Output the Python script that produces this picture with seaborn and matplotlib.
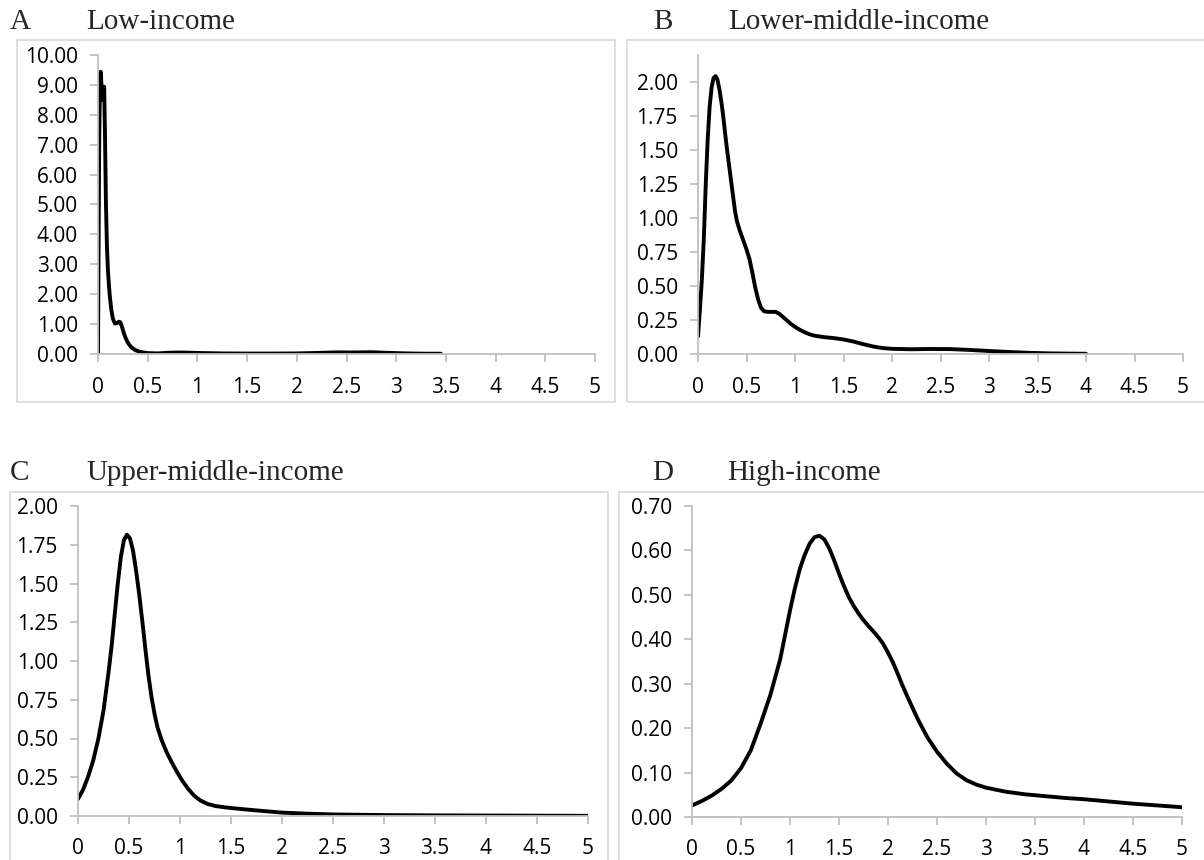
import matplotlib
matplotlib.use('Agg')
import matplotlib.pyplot as plt
from matplotlib.patches import Rectangle
import seaborn as sns

sns.set_style('white')
plt.rcParams['font.family'] = ['Open Sans', 'DejaVu Sans']

# Panel data
panel_letters = ['A', 'B', 'C', 'D']
panel_titles = ['Low-income', 'Lower-middle-income', 'Upper-middle-income', 'High-income']

x_low = [0.0, 0.005, 0.012, 0.02, 0.027, 0.035, 0.045, 0.055, 0.062, 0.07, 0.08, 0.09,
         0.1, 0.11, 0.12, 0.135, 0.15, 0.17, 0.19, 0.21, 0.225, 0.24, 0.26, 0.28, 0.3,
         0.33, 0.37, 0.42, 0.5, 0.6, 0.7, 0.8, 0.9, 1.0, 1.25, 1.5, 1.75, 2.0, 2.2, 2.4,
         2.55, 2.75, 2.9, 3.1, 3.3, 3.45]
y_low = [0.0, 3.0, 7.0, 9.1, 9.44, 9.0, 8.5, 8.8, 8.94, 7.4, 5.0, 3.6,
         2.8, 2.3, 1.9, 1.45, 1.18, 1.02, 1.03, 1.08, 1.06, 0.92, 0.7, 0.52, 0.38,
         0.24, 0.14, 0.07, 0.03, 0.02, 0.04, 0.05, 0.045, 0.035, 0.02, 0.015, 0.015, 0.02, 0.035, 0.055,
         0.05, 0.06, 0.04, 0.02, 0.01, 0.01]

x_lowmid = [0.0, 0.02, 0.04, 0.06, 0.08, 0.1, 0.12, 0.14, 0.16, 0.18, 0.2, 0.22, 0.24, 0.26,
            0.28, 0.3, 0.32, 0.34, 0.36, 0.38, 0.4, 0.43, 0.46, 0.5, 0.53, 0.56, 0.59, 0.62,
            0.65, 0.68, 0.72, 0.76, 0.8, 0.84, 0.88, 0.92, 0.96, 1.0, 1.05, 1.1, 1.15, 1.2,
            1.3, 1.4, 1.5, 1.6, 1.7, 1.8, 1.9, 2.0, 2.2, 2.4, 2.6, 2.8, 3.0, 3.2, 3.4, 3.6,
            3.8, 4.0]
y_lowmid = [0.13, 0.33, 0.55, 0.85, 1.25, 1.58, 1.82, 1.96, 2.03, 2.045, 2.02, 1.95, 1.86, 1.75,
            1.62, 1.5, 1.39, 1.28, 1.17, 1.06, 0.98, 0.91, 0.85, 0.77, 0.7, 0.6, 0.49, 0.4,
            0.34, 0.315, 0.31, 0.31, 0.31, 0.295, 0.27, 0.245, 0.22, 0.2, 0.178, 0.16, 0.145, 0.135,
            0.124, 0.117, 0.107, 0.092, 0.073, 0.056, 0.044, 0.038, 0.035, 0.037, 0.036, 0.03, 0.022, 0.015, 0.009, 0.005,
            0.003, 0.002]

x_upmid = [0.0, 0.05, 0.1, 0.15, 0.2, 0.25, 0.3, 0.33, 0.36, 0.39, 0.42, 0.45, 0.48, 0.51,
           0.54, 0.57, 0.6, 0.63, 0.66, 0.69, 0.72, 0.75, 0.78, 0.82, 0.87, 0.92, 0.97, 1.02,
           1.08, 1.14, 1.2, 1.27, 1.35, 1.45, 1.6, 1.8, 2.0, 2.25, 2.5, 3.0, 3.5, 4.0, 4.5, 5.0]
y_upmid = [0.11, 0.17, 0.255, 0.36, 0.5, 0.68, 0.93, 1.1, 1.3, 1.5, 1.67, 1.78, 1.815, 1.79,
           1.71, 1.58, 1.43, 1.26, 1.08, 0.91, 0.77, 0.66, 0.57, 0.49, 0.41, 0.345, 0.285, 0.23,
           0.175, 0.13, 0.1, 0.078, 0.064, 0.055, 0.045, 0.033, 0.022, 0.015, 0.01, 0.006, 0.004, 0.003, 0.002, 0.001]

x_high = [0.0, 0.1, 0.2, 0.3, 0.4, 0.5, 0.6, 0.7, 0.8, 0.9, 0.95, 1.0, 1.05, 1.1, 1.15, 1.2,
          1.25, 1.3, 1.35, 1.4, 1.45, 1.5, 1.55, 1.6, 1.65, 1.7, 1.75, 1.8, 1.85, 1.9, 1.95,
          2.0, 2.05, 2.1, 2.15, 2.2, 2.3, 2.4, 2.5, 2.6, 2.7, 2.8, 2.9, 3.0, 3.2, 3.4, 3.6,
          3.8, 4.0, 4.25, 4.5, 4.75, 5.0]
y_high = [0.026, 0.036, 0.048, 0.063, 0.082, 0.11, 0.15, 0.21, 0.275, 0.355, 0.41, 0.465, 0.515, 0.558, 0.59, 0.615,
          0.63, 0.633, 0.625, 0.605, 0.578, 0.548, 0.52, 0.495, 0.475, 0.458, 0.443, 0.43, 0.418, 0.405, 0.39,
          0.37, 0.348, 0.322, 0.295, 0.27, 0.222, 0.18, 0.147, 0.12, 0.098, 0.083, 0.073, 0.066, 0.057, 0.051, 0.047,
          0.043, 0.04, 0.035, 0.03, 0.026, 0.022]

x_ticks = [0, 0.5, 1, 1.5, 2, 2.5, 3, 3.5, 4, 4.5, 5]
x_labels = ['0', '0.5', '1', '1.5', '2', '2.5', '3', '3.5', '4', '4.5', '5']
y_ticks_low = [0, 1, 2, 3, 4, 5, 6, 7, 8, 9, 10]
y_ticks_lowmid = [0, 0.25, 0.5, 0.75, 1.0, 1.25, 1.5, 1.75, 2.0]
y_ticks_upmid = [0, 0.25, 0.5, 0.75, 1.0, 1.25, 1.5, 1.75, 2.0]
y_ticks_high = [0, 0.1, 0.2, 0.3, 0.4, 0.5, 0.6, 0.7]

W, H = 1204, 860
fig = plt.figure(figsize=(W / 100, H / 100), dpi=100)

def fx(px):
    return px / W

def fy(px):
    return 1 - px / H

# frame boxes (pixels: left, top, right, bottom)
frames = [(17, 40, 615, 402), (627, 40, 1210, 402), (10, 492, 608, 870), (619, 492, 1210, 870)]
for l, t, r, b in frames:
    fig.patches.append(Rectangle((fx(l), fy(b)), fx(r - l), (b - t) / H, transform=fig.transFigure,
                                 fill=False, edgecolor='#d9d9d9', linewidth=1.2, zorder=0))

# axes areas in pixels: x0, x5, ytop, ybottom
boxes = [(98, 595, 55, 354), (698, 1183, 55, 354), (78, 588, 506, 816), (692, 1182, 506, 817)]
ylims = [(0, 10), (0, 2.2), (0, 2), (0, 0.7)]
yticks = [y_ticks_low, y_ticks_lowmid, y_ticks_upmid, y_ticks_high]
xs = [x_low, x_lowmid, x_upmid, x_high]
ys = [y_low, y_lowmid, y_upmid, y_high]
xpads = [11, 11, 10, 10]

for i in range(4):
    x0, x5, yt, yb = boxes[i]
    ax = fig.add_axes([fx(x0), fy(yb), (x5 - x0) / W, (yb - yt) / H])
    ax.patch.set_alpha(0)
    sns.lineplot(x=xs[i], y=ys[i], ax=ax, color='black', linewidth=2.8, sort=False)
    ax.set_xlim(0, 5)
    ax.set_ylim(*ylims[i])
    ax.set_xticks(x_ticks)
    ax.set_xticklabels(x_labels)
    ax.set_yticks(yticks[i])
    ax.set_yticklabels([f'{v:.2f}' for v in yticks[i]])
    for s in ['top', 'right']:
        ax.spines[s].set_visible(False)
    for s in ['left', 'bottom']:
        ax.spines[s].set_color('#bfbfbf')
        ax.spines[s].set_linewidth(1.3)
    ax.tick_params(axis='both', which='major', direction='out', length=5.5, width=1.3,
                   color='#bfbfbf', labelsize=15, labelcolor='black')
    ax.tick_params(axis='y', pad=9, left=True)
    ax.tick_params(axis='x', pad=xpads[i], bottom=True)
    ax.set_xlabel('')
    ax.set_ylabel('')

# panel titles
title_pos = [(10, 86, 29), (653, 728, 29), (10, 86, 480), (652, 727, 480)]
for i, (lx, tx, by) in enumerate(title_pos):
    fig.text(fx(lx), fy(by), panel_letters[i], family='Liberation Serif', fontsize=21,
             ha='left', va='baseline')
    fig.text(fx(tx), fy(by), panel_titles[i], family='Liberation Serif', fontsize=21,
             ha='left', va='baseline')

fig.savefig('out.png', dpi=100)
